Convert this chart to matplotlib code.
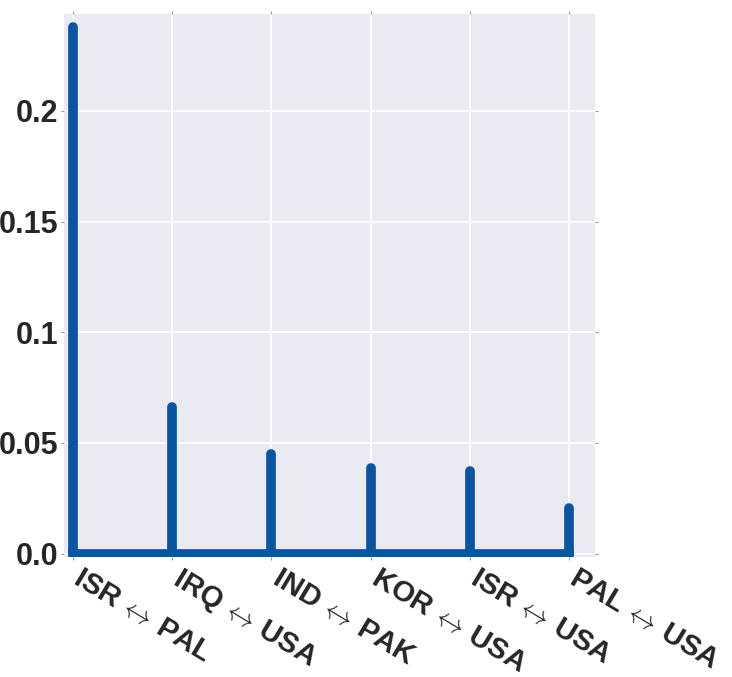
import matplotlib
matplotlib.use('Agg')
import matplotlib.pyplot as plt
from matplotlib.transforms import ScaledTranslation
import numpy as np

# pairs and their values
pairs = ['ISR$\\,\\leftrightarrow\\,$PAL', 'IRQ$\\,\\leftrightarrow\\,$USA', 'IND$\\,\\leftrightarrow\\,$PAK',
         'KOR$\\,\\leftrightarrow\\,$USA', 'ISR$\\,\\leftrightarrow\\,$USA', 'PAL$\\,\\leftrightarrow\\,$USA']
values = [0.238, 0.0662, 0.045, 0.0387, 0.0374, 0.0207]
ytick_vals = [0.0, 0.05, 0.1, 0.15, 0.2]
ytick_labels = ['0.0', '0.05', '0.1', '0.15', '0.2']

plt.rcParams['font.family'] = ['Liberation Sans', 'DejaVu Sans']
plt.rcParams['mathtext.fontset'] = 'cm'

blue = '#0b55a0'

fig = plt.figure(figsize=(7.32, 6.77), dpi=100)
ax = fig.add_axes([0.0874, 0.1773, 0.7254, 0.8017])
ax.set_facecolor('#EAEAF2')
for s in ax.spines.values():
    s.set_visible(False)

x = np.arange(len(values))
ax.set_axisbelow(True)
ax.grid(True, color='white', linewidth=1.2)

ax.vlines(x, 0, values, color=blue, linewidth=7, capstyle='round', zorder=3)
ax.plot([x[0], x[-1]], [0, 0], color=blue, linewidth=7, solid_capstyle='projecting', zorder=3)

ax.set_xlim(-0.09, 5.26)
ax.set_ylim(-0.0015, 0.2437)

ax.set_xticks(x)
ax.set_xticklabels(pairs, rotation=-31, ha='left', va='top', rotation_mode='anchor',
                   fontsize=21, fontweight='bold', color='#262626')
ax.set_yticks(ytick_vals)
ax.set_yticklabels(ytick_labels, fontsize=22, fontweight='bold', color='#262626')
ax.tick_params(axis='both', length=2, width=0.8, color='#999999', top=True, right=True)
ax.tick_params(axis='y', pad=2)
ax.tick_params(axis='x', pad=3)

# nudge the slanted labels right so they start just after each tick
off = ScaledTranslation(10 / 100, 0, fig.dpi_scale_trans)
for lab in ax.get_xticklabels():
    lab.set_transform(lab.get_transform() + off)

fig.savefig('out.png', dpi=100)
